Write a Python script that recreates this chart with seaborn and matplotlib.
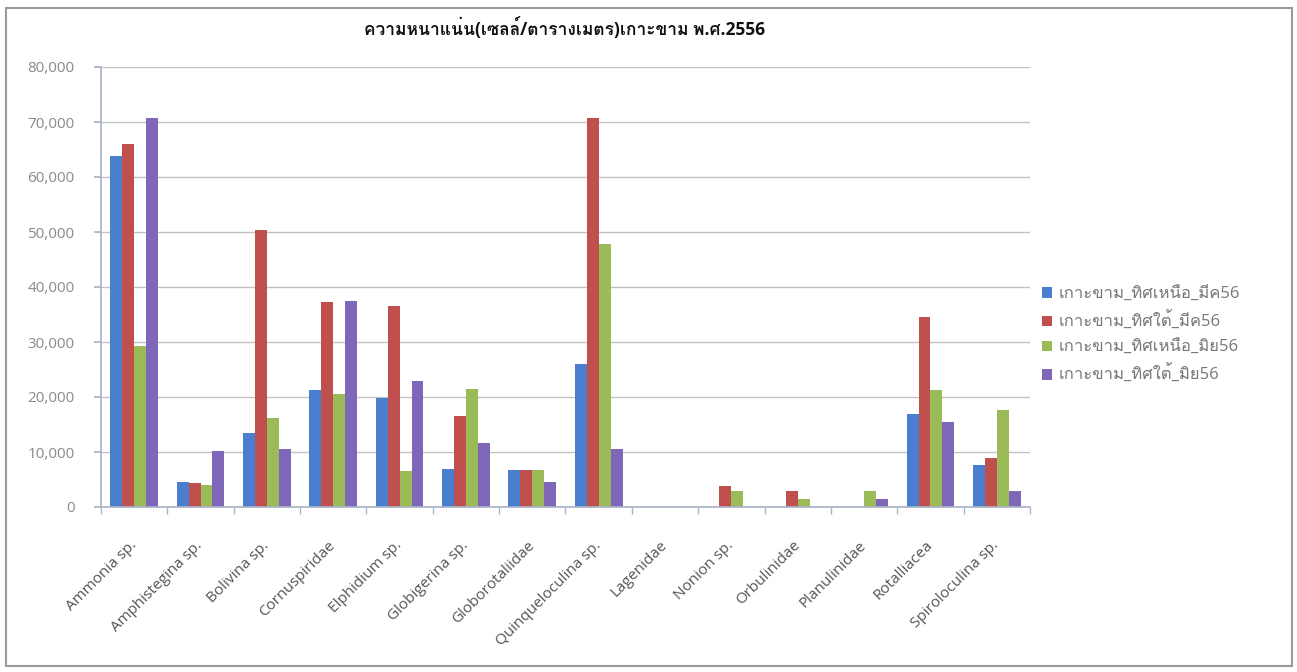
import numpy as np
import pandas as pd
import matplotlib
matplotlib.use("Agg")
import matplotlib.pyplot as plt
import seaborn as sns
from matplotlib import font_manager, ft2font
from matplotlib.ticker import FuncFormatter, FixedLocator
from matplotlib.patches import Rectangle

# datos (células/m2)
taxones = ["Ammonia sp.", "Amphistegina sp.", "Bolivina sp.", "Cornuspiridae",
           "Elphidium sp.", "Globigerina sp.", "Globorotaliidae", "Quinqueloculina sp.",
           "Lagenidae", "Nonion sp.", "Orbulinidae", "Planulinidae", "Rotalliacea",
           "Spiroloculina sp."]
estaciones = ["เกาะขาม_ทิศเหนือ_มีค56", "เกาะขาม_ทิศใต้_มีค56",
              "เกาะขาม_ทิศเหนือ_มิย56", "เกาะขาม_ทิศใต้_มิย56"]
norte_mar = [63800, 4600, 13400, 21300, 19900, 7000, 6800, 26000, 0, 0, 0, 0, 16900, 7600]
sur_mar = [66000, 4300, 50300, 37200, 36500, 16500, 6800, 70700, 0, 3800, 3000, 0, 34500, 9000]
norte_jun = [29300, 4000, 16200, 20500, 6600, 21500, 6800, 47900, 0, 3000, 1500, 3000, 21300, 17600]
sur_jun = [70700, 10100, 10500, 37500, 22900, 11600, 4600, 10500, 0, 0, 0, 1500, 15500, 3000]
colores = ["#4A7FD0", "#C0504D", "#9BBB59", "#7E66B8"]
titulo = "ความหนาแน่น(เซลล์/ตารางเมตร)เกาะขาม พ.ศ.2556"


def buscar_fuente_thai():
    # buscar una fuente instalada que tenga glifos tailandeses
    for f in font_manager.fontManager.ttflist:
        try:
            fuente = ft2font.FT2Font(f.fname)
            if 0x0E01 in fuente.get_charmap():
                return f.name
        except Exception:
            continue
    return None


series = [norte_mar, sur_mar, norte_jun, sur_jun]
filas = []
for est, vals in zip(estaciones, series):
    for t, v in zip(taxones, vals):
        filas.append({"taxon": t, "estacion": est, "densidad": v})
df = pd.DataFrame(filas)

sns.set_theme(style="white")
thai = buscar_fuente_thai()
familias = ["Open Sans", "DejaVu Sans"]
if thai:
    familias.insert(1, thai)
plt.rcParams["font.family"] = familias

fig = plt.figure(figsize=(12.97, 6.72), dpi=100)
ax = fig.add_axes([101 / 1297, 1 - 507 / 672, (1030 - 101) / 1297, (507 - 67) / 672])

sns.barplot(data=df, x="taxon", y="densidad", hue="estacion", palette=colores,
            width=0.72, gap=0, ax=ax, saturation=1, edgecolor="none")

ax.set_ylim(0, 80000)
ax.set_xlim(-0.5, len(taxones) - 0.5)
ax.set_yticks(np.arange(0, 80001, 10000))
ax.yaxis.set_major_formatter(FuncFormatter(lambda v, p: f"{int(v):,}"))
ax.grid(axis="y", color="#C2C2C2", linewidth=1)
ax.set_axisbelow(True)
ax.set_xlabel("")
ax.set_ylabel("")

for lado in ["top", "right"]:
    ax.spines[lado].set_visible(False)
ax.spines["left"].set_color("#A8B4C8")
ax.spines["bottom"].set_color("#A8B4C8")

ax.set_xticks(range(len(taxones)))
ax.set_xticklabels(taxones, rotation=45, ha="right", va="center", rotation_mode="anchor",
                   fontsize=11, color="#555555")
ax.tick_params(axis="x", which="major", length=0, pad=26)
ax.xaxis.set_minor_locator(FixedLocator(np.arange(-0.5, len(taxones), 1)))
ax.tick_params(axis="x", which="minor", length=5, color="#A8B4C8", direction="out", bottom=True)
ax.tick_params(axis="y", length=5, color="#A8B4C8", direction="out", left=True,
               labelsize=11, labelcolor="#8A8A8A", pad=14)

fig.text(565 / 1297, 1 - 28 / 672, titulo, ha="center", va="center",
         fontsize=12.5, fontweight="bold", color="#111111")

ax.legend(loc="center left", bbox_to_anchor=(1.0, 0.39), frameon=False,
          fontsize=12, labelcolor="#777777", handlelength=0.6, handleheight=0.6,
          labelspacing=0.55, handletextpad=0.4, borderaxespad=0.3)

# marco exterior del gráfico
fig.patches.append(Rectangle((6 / 1297, 6 / 672), 1286 / 1297, 658 / 672,
                             transform=fig.transFigure, fill=False,
                             edgecolor="#9A9A9A", linewidth=1.5))

fig.savefig("out.png", dpi=100)
plt.close(fig)
